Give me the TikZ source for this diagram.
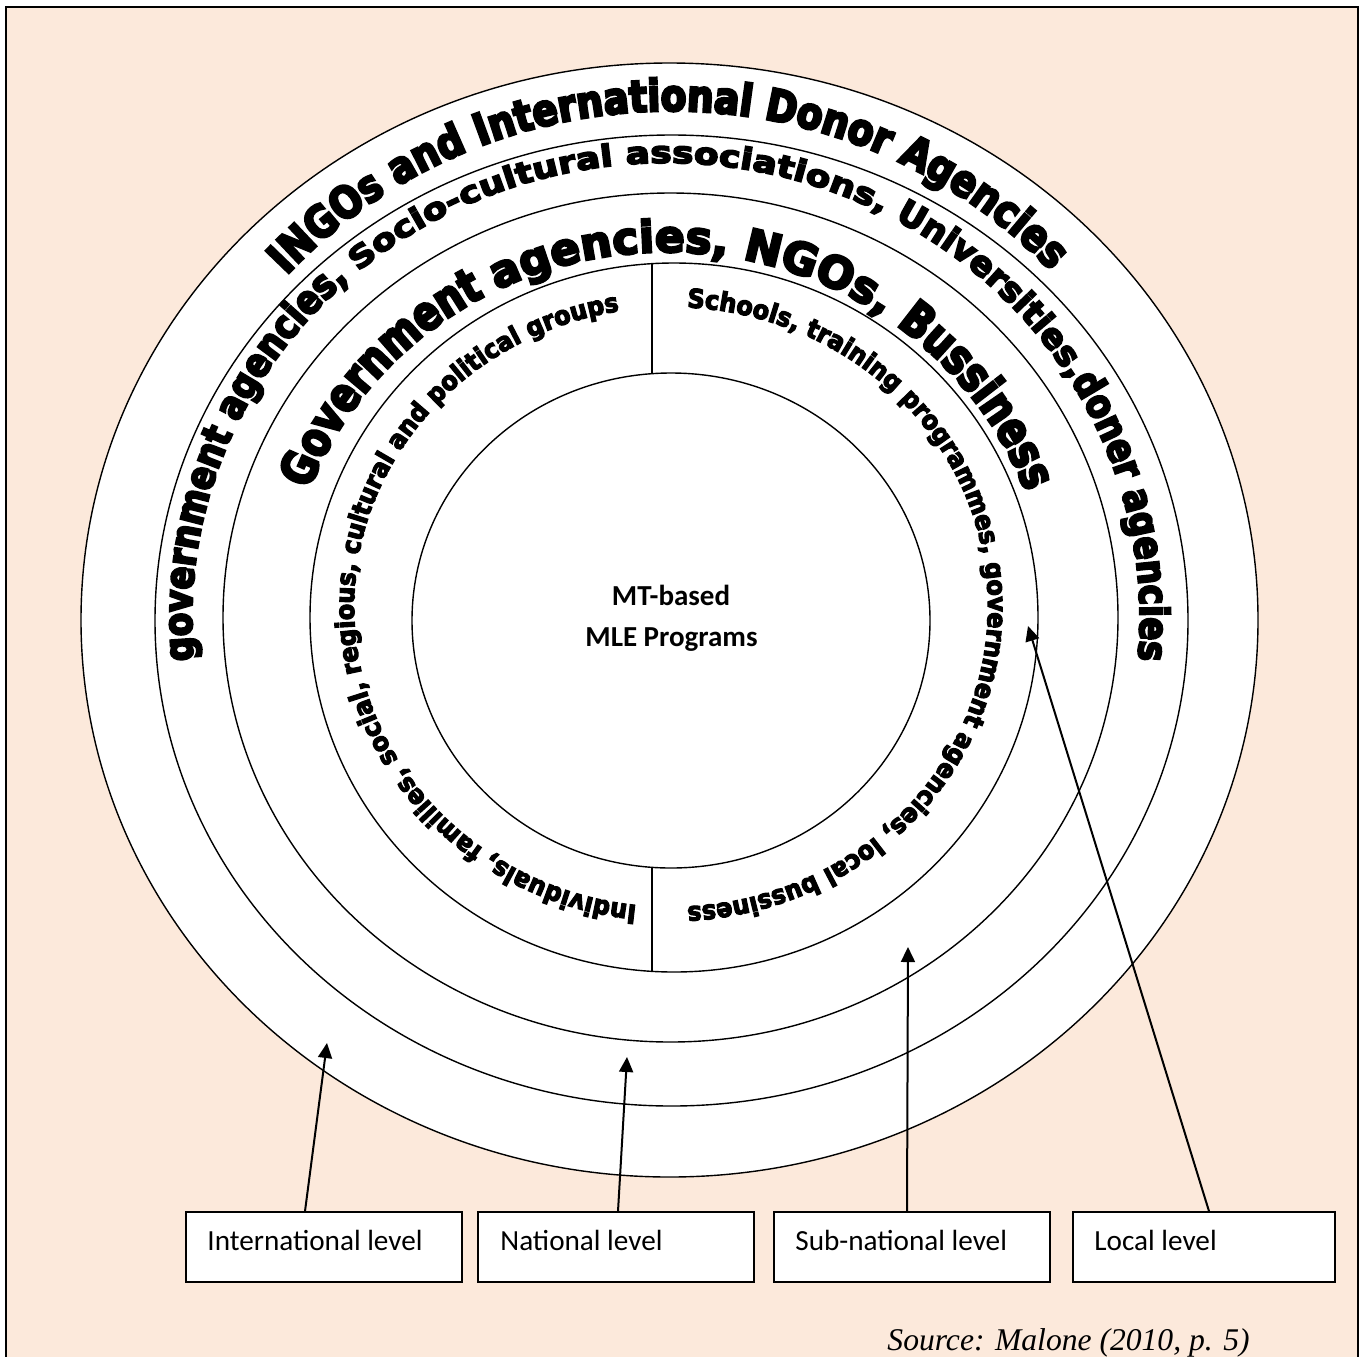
\documentclass[tikz,border=0pt]{standalone}
\usepackage{fontspec}
\setmainfont{Carlito}
\newfontfamily\calib{Carlito}
\newfontfamily\timesit{Liberation Serif}
\newfontfamily\hOut[FakeStretch=0.85,FakeBold=5.5]{DejaVu Sans}
\newfontfamily\hS[FakeStretch=0.8,FakeBold=5.5]{DejaVu Sans}
\newfontfamily\hN[FakeBold=5.5]{DejaVu Sans}
\newfontfamily\hW[FakeStretch=1.2,FakeBold=5.5]{DejaVu Sans}
\newfontfamily\hIn[FakeStretch=0.92,FakeBold=4.5]{DejaVu Sans}
\usetikzlibrary{decorations.text,arrows.meta}
\definecolor{peach}{RGB}{252,233,219}
\newcommand\fOut{\hOut\bfseries\fontsize{22pt}{22pt}\selectfont}
\newcommand\fBa{\hOut\bfseries\fontsize{20pt}{20pt}\selectfont}
\newcommand\fBb{\hW\bfseries\fontsize{15pt}{15pt}\selectfont}
\newcommand\fBc{\hN\bfseries\fontsize{17pt}{17pt}\selectfont}
\newcommand\fCa{\hS\bfseries\fontsize{24pt}{24pt}\selectfont}
\newcommand\fCb{\hN\bfseries\fontsize{22pt}{22pt}\selectfont}
\newcommand\fIn{\hIn\bfseries\fontsize{13pt}{13pt}\selectfont}
\begin{document}
\begin{tikzpicture}[x=0.5pt,y=0.5pt,
  ring/.style={draw=black,line width=0.7pt},
  arr/.style={draw=black,line width=1pt,-{Triangle[length=7.5pt,width=7pt]}},
  lvlbox/.style={draw=black,fill=white,line width=0.8pt,minimum width=138pt,minimum height=35pt,inner sep=0pt},
  lvltext/.style={font=\calib\fontsize{14.6pt}{17pt}\selectfont,anchor=base west,inner sep=0pt},
  centext/.style={font=\calib\bfseries\fontsize{14.5pt}{17pt}\selectfont,anchor=base,inner sep=0pt}]
\useasboundingbox (0,0) rectangle (1365,-1356);
\fill[white] (0,0) rectangle (1365,-1356);
\draw[fill=peach,line width=1pt] (6,-7) rectangle (1358,-1380);
% rings
\draw[ring,fill=white] (669.5,-620) ellipse[x radius=588.5,y radius=557];
\draw[ring] (671.5,-620.5) ellipse[x radius=516.5,y radius=485.5];
\draw[ring] (670.5,-617.5) ellipse[x radius=447.5,y radius=424.5];
\draw[ring] (674,-617.5) ellipse[x radius=364,y radius=354.5];
\draw[ring] (671,-620.5) ellipse[x radius=259,y radius=247.5];
\draw[ring] (652,-263.6) -- (652,-373.7);
\draw[ring] (652,-867.3) -- (652,-971.4);
% curved texts
\path[decorate,decoration={text along path,text align=center,
  text={|\fOut|INGOs and International Donor Agencies}}]
  (671,-620) ++({522*cos(150.35)},{509*sin(150.35)})
  arc[start angle=150.35,end angle=30.35,x radius=522,y radius=509];
\path[decorate,decoration={text along path,text align=center,
  text={|\fBa|government agencies, |\fBb|Socio-cultural associations, |\fBc|Universities,|\fBa|doner agencies}}]
  (666,-618) ++({474*cos(200)},{455*sin(200)})
  arc[start angle=200,end angle=-20,x radius=474,y radius=455];
\path[decorate,decoration={text along path,text align=center,
  text={|\fCa|Government |\fCb|agencies, NGOs, |\fCa|Bussiness}}]
  (667,-618) ++({382*cos(174.8)},{366*sin(174.8)})
  arc[start angle=174.8,end angle=4.8,x radius=382,y radius=366];
\path[decorate,decoration={text along path,text align=center,
  text={|\fIn|Individuals, families, social, regious, cultural and political groups}}]
  (671,-607) ++({317*cos(269.6)},{300*sin(269.6)})
  arc[start angle=269.6,end angle=93.6,x radius=317,y radius=300];
\path[decorate,decoration={text along path,text align=center,
  text={|\fIn|Schools, training programmes, government agencies, local bussiness}}]
  (671,-607) ++({317*cos(95)},{300*sin(95)})
  arc[start angle=95,end angle=-95,x radius=317,y radius=300];
% centre
\node[centext] (mt1) at (671,-605) {MT-based};
\node[centext] (mt2) at (671.5,-646) {MLE Programs};
% level boxes
\node[lvlbox] (intl) at (324,-1247) {};
\node[lvlbox] (natl) at (616,-1247) {};
\node[lvlbox] (subn) at (912,-1247) {};
\node[lvlbox,minimum width=131pt] (locl) at (1204,-1247) {};
\node[lvltext] (tintl) at (207,-1250) {International level};
\node[lvltext] (tnatl) at (500,-1250) {National level};
\node[lvltext] (tsubn) at (795,-1250) {Sub-national level};
\node[lvltext] (tlocl) at (1094,-1250) {Local level};
% arrows
\coordinate (h1) at (327,-1043); \coordinate (x1) at (305,0);
\coordinate (h2) at (627,-1057); \coordinate (x2) at (618,0);
\coordinate (h3) at (908,-947);  \coordinate (x3) at (907,0);
\coordinate (h4) at (1028,-626); \coordinate (x4) at (1209,0);
\draw[arr] (intl.north -| x1) -- (h1);
\draw[arr] (natl.north -| x2) -- (h2);
\draw[arr] (subn.north -| x3) -- (h3);
\draw[arr] (locl.north -| x4) -- (h4);
% source
\node[font=\timesit\itshape\fontsize{15.8pt}{18pt}\selectfont,anchor=base east,inner sep=0pt] (src) at (1250,-1350) {Source: Malone (2010, p. 5)};
\end{tikzpicture}
\end{document}
